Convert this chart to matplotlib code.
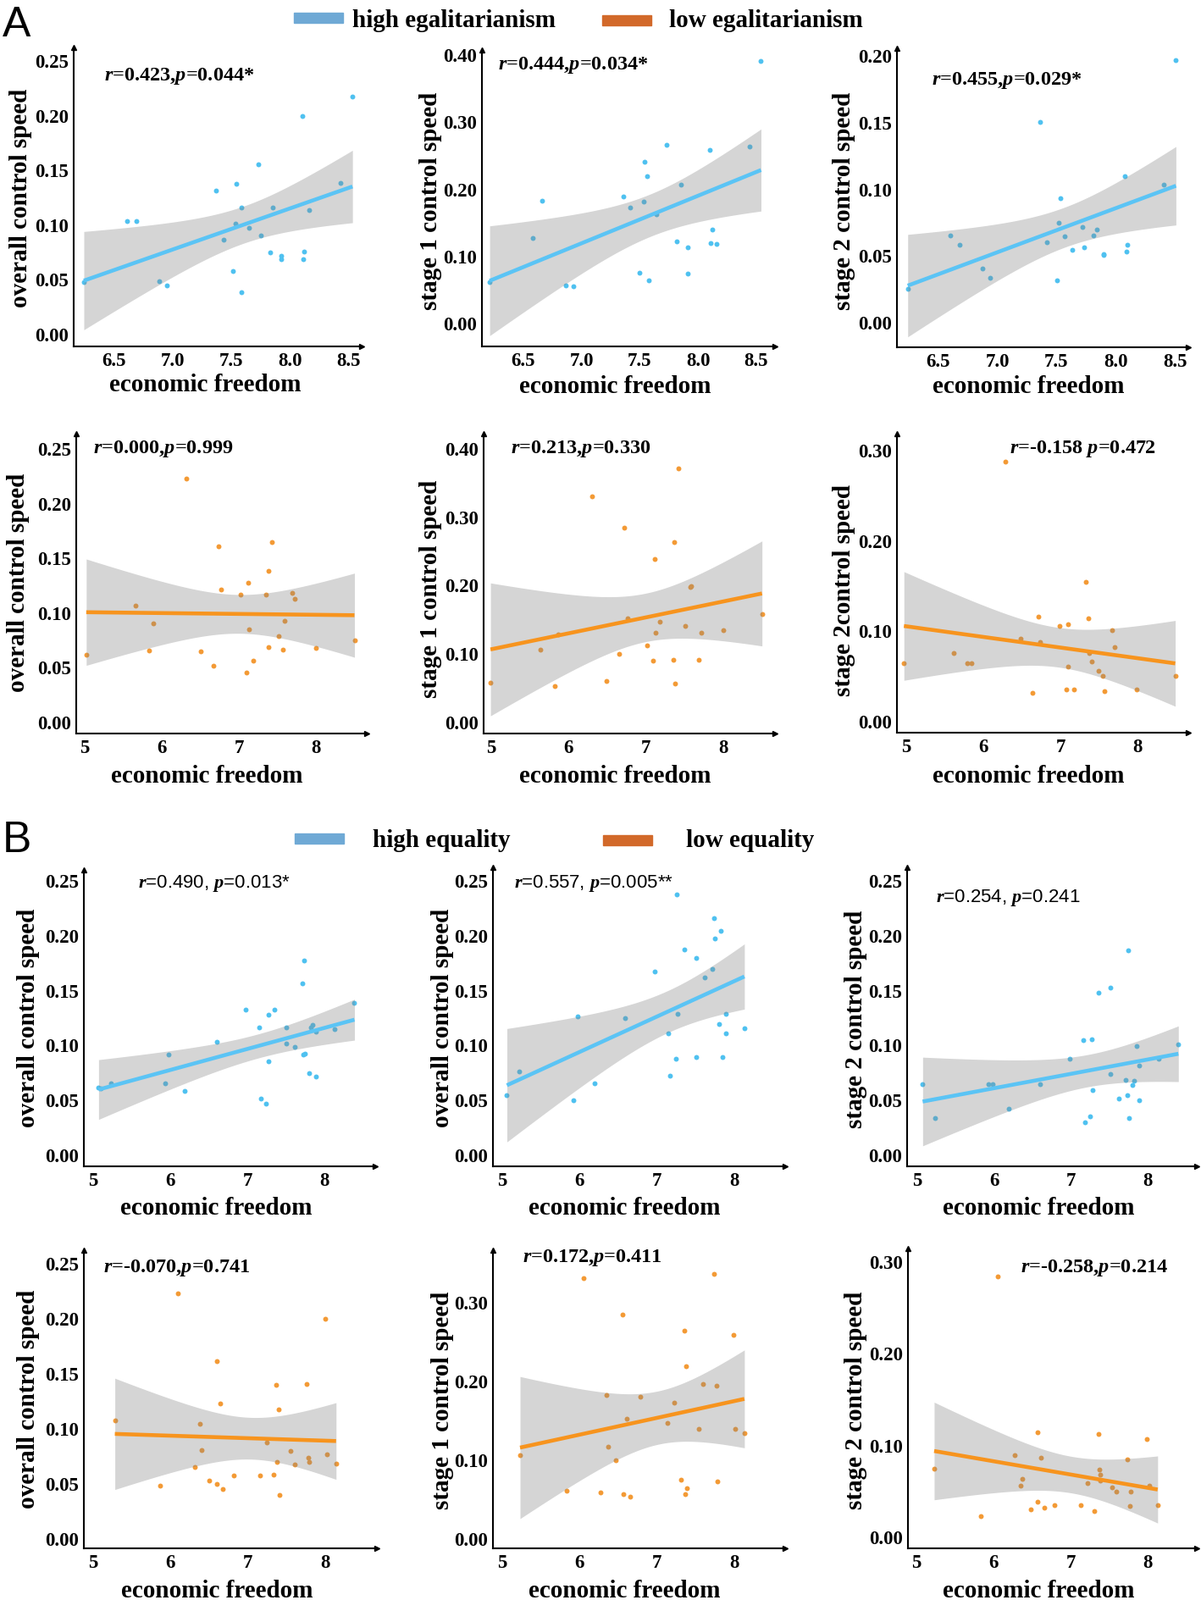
import numpy as np
import matplotlib
matplotlib.use("Agg")
import matplotlib.pyplot as plt
from matplotlib.patches import Rectangle

plt.rcParams["font.family"] = ["Liberation Serif", "DejaVu Serif"]
plt.rcParams["mathtext.fontset"] = "custom"
plt.rcParams["mathtext.it"] = "Liberation Serif:italic:bold"
plt.rcParams["mathtext.rm"] = "Liberation Serif:bold"

W, H = 1418, 1890

# ── data ────────────────────────────────────────────────────────────────────
# A: egalitarianism split, top row = high, bottom row = low
a1_x = [6.24, 6.61, 6.69, 6.88, 6.95, 7.37, 7.43, 7.51, 7.54, 7.53, 7.58, 7.58, 7.65,
        7.73, 7.75, 7.83, 7.85, 7.92, 7.92, 8.10, 8.11, 8.12, 8.16, 8.43, 8.53]
a1_y = [0.047, 0.103, 0.103, 0.048, 0.044, 0.131, 0.086, 0.057, 0.137, 0.101, 0.115, 0.038, 0.097,
        0.155, 0.090, 0.074, 0.115, 0.071, 0.068, 0.199, 0.068, 0.075, 0.113, 0.138, 0.217]

a2_x = [6.21, 6.58, 6.66, 6.86, 6.93, 7.36, 7.42, 7.50, 7.53, 7.54, 7.56, 7.58,
        7.64, 7.73, 7.82, 7.85, 7.91, 7.91, 8.10, 8.11, 8.12, 8.16, 8.44, 8.54]
a2_y = [0.060, 0.126, 0.182, 0.056, 0.054, 0.188, 0.172, 0.074, 0.180, 0.240, 0.218, 0.063,
        0.162, 0.265, 0.121, 0.206, 0.112, 0.073, 0.258, 0.119, 0.139, 0.117, 0.262, 0.390]

a3_x = [6.24, 6.60, 6.68, 6.87, 6.94, 7.36, 7.42, 7.50, 7.52, 7.53, 7.57, 7.63,
        7.72, 7.73, 7.81, 7.84, 7.90, 7.90, 8.08, 8.09, 8.10, 8.41, 8.51]
a3_y = [0.025, 0.065, 0.058, 0.040, 0.033, 0.150, 0.060, 0.031, 0.074, 0.093, 0.064, 0.054,
        0.071, 0.056, 0.065, 0.069, 0.051, 0.050, 0.109, 0.053, 0.058, 0.103, 0.196]

a4_x = [5.02, 5.66, 5.84, 5.89, 6.32, 6.50, 6.67, 6.74, 6.77, 7.02, 7.10, 7.12, 7.13,
        7.19, 7.35, 7.38, 7.39, 7.43, 7.52, 7.57, 7.59, 7.69, 7.72, 8.00, 8.50]
a4_y = [0.061, 0.106, 0.065, 0.090, 0.222, 0.064, 0.051, 0.160, 0.121, 0.116, 0.045, 0.127, 0.084,
        0.056, 0.116, 0.138, 0.068, 0.164, 0.078, 0.066, 0.092, 0.118, 0.112, 0.067, 0.074]

a5_x = [4.99, 5.64, 5.82, 5.87, 6.30, 6.49, 6.65, 6.72, 6.76, 7.01, 7.09, 7.11, 7.12,
        7.18, 7.35, 7.37, 7.38, 7.42, 7.51, 7.57, 7.58, 7.68, 7.71, 8.00, 8.50]
a5_y = [0.057, 0.105, 0.052, 0.128, 0.330, 0.059, 0.099, 0.284, 0.151, 0.112, 0.089, 0.238, 0.130,
        0.146, 0.091, 0.263, 0.056, 0.370, 0.140, 0.197, 0.198, 0.091, 0.130, 0.134, 0.157]

a6_x = [4.97, 5.62, 5.79, 5.85, 6.29, 6.48, 6.64, 6.71, 6.74, 6.99, 7.08, 7.10, 7.10,
        7.18, 7.33, 7.36, 7.37, 7.41, 7.50, 7.55, 7.57, 7.67, 7.70, 7.99, 8.49]
a6_y = [0.064, 0.075, 0.064, 0.064, 0.287, 0.091, 0.031, 0.115, 0.087, 0.105, 0.035, 0.107, 0.060,
        0.035, 0.154, 0.113, 0.075, 0.066, 0.055, 0.050, 0.033, 0.100, 0.082, 0.035, 0.050]

# B: equality split, top row = high, bottom row = low
b1_x = [5.07, 5.10, 5.23, 5.93, 5.98, 6.19, 6.60, 6.98, 7.15, 7.18, 7.24, 7.27, 7.28, 7.35,
        7.51, 7.51, 7.62, 7.71, 7.72, 7.75, 7.74, 7.80, 7.82, 7.85, 7.89, 7.89, 8.13, 8.39]
b1_y = [0.061, 0.060, 0.065, 0.065, 0.091, 0.058, 0.103, 0.132, 0.116, 0.051, 0.046, 0.127, 0.085, 0.132,
        0.116, 0.101, 0.098, 0.156, 0.091, 0.092, 0.177, 0.074, 0.116, 0.118, 0.112, 0.071, 0.114, 0.138]

b2_x = [5.06, 5.22, 5.92, 5.97, 6.19, 6.59, 6.97, 7.15, 7.17, 7.24, 7.26, 7.27, 7.35,
        7.51, 7.51, 7.62, 7.72, 7.74, 7.75, 7.80, 7.82, 7.85, 7.89, 7.89, 8.13]
b2_y = [0.054, 0.076, 0.049, 0.126, 0.065, 0.124, 0.167, 0.110, 0.072, 0.087, 0.237, 0.128, 0.187,
        0.089, 0.179, 0.161, 0.169, 0.215, 0.197, 0.119, 0.204, 0.089, 0.128, 0.110, 0.115]

b3_x = [5.07, 5.23, 5.93, 5.98, 6.19, 6.60, 6.98, 7.16, 7.18, 7.25, 7.27, 7.28, 7.36, 7.52,
        7.52, 7.63, 7.71, 7.73, 7.75, 7.76, 7.80, 7.82, 7.86, 7.89, 7.89, 8.14, 8.40]
b3_y = [0.064, 0.033, 0.064, 0.064, 0.042, 0.064, 0.087, 0.104, 0.029, 0.035, 0.105, 0.059, 0.147, 0.152,
        0.073, 0.051, 0.068, 0.054, 0.186, 0.033, 0.063, 0.067, 0.099, 0.081, 0.049, 0.087, 0.100]

b4_x = [5.28, 5.87, 6.09, 6.31, 6.38, 6.40, 6.50, 6.60, 6.60, 6.64, 6.68, 6.82, 7.16, 7.24,
        7.33, 7.37, 7.38, 7.40, 7.41, 7.55, 7.61, 7.76, 7.78, 7.79, 8.00, 8.02, 8.14]
b4_y = [0.107, 0.048, 0.222, 0.065, 0.104, 0.080, 0.052, 0.161, 0.049, 0.122, 0.045, 0.057, 0.057, 0.087,
        0.058, 0.139, 0.069, 0.117, 0.039, 0.079, 0.067, 0.140, 0.073, 0.069, 0.199, 0.076, 0.068]

b5_x = [5.23, 5.83, 6.05, 6.27, 6.35, 6.37, 6.47, 6.56, 6.57, 6.61, 6.65, 6.79, 7.13, 7.22,
        7.31, 7.35, 7.37, 7.38, 7.39, 7.54, 7.59, 7.74, 7.77, 7.78, 7.99, 8.01, 8.13]
b5_y = [0.105, 0.060, 0.330, 0.058, 0.182, 0.116, 0.099, 0.284, 0.056, 0.152, 0.053, 0.180, 0.146, 0.172,
        0.074, 0.263, 0.056, 0.218, 0.063, 0.139, 0.196, 0.335, 0.194, 0.072, 0.258, 0.139, 0.133]

b6_x = [5.23, 5.83, 6.06, 6.27, 6.35, 6.37, 6.48, 6.57, 6.57, 6.61, 6.66, 6.79, 7.13, 7.22,
        7.31, 7.36, 7.37, 7.38, 7.38, 7.54, 7.59, 7.74, 7.77, 7.78, 7.99, 8.02, 8.13]
b6_y = [0.074, 0.022, 0.283, 0.089, 0.055, 0.063, 0.030, 0.114, 0.038, 0.086, 0.031, 0.034, 0.034, 0.058,
        0.028, 0.112, 0.073, 0.067, 0.061, 0.054, 0.049, 0.084, 0.033, 0.049, 0.106, 0.055, 0.034]

stats_text = [
    "$r$=0.423,$p$=0.044*", "$r$=0.444,$p$=0.034*", "$r$=0.455,$p$=0.029*",
    "$r$=0.000,$p$=0.999", "$r$=0.213,$p$=0.330", "$r$=-0.158 $p$=0.472",
    "$r$=0.490, $p$=0.013*", "$r$=0.557, $p$=0.005**", "$r$=0.254, $p$=0.241",
    "$r$=-0.070,$p$=0.741", "$r$=0.172,$p$=0.411", "$r$=-0.258,$p$=0.214",
]
y_labels = [
    "overall control speed", "stage 1 control speed", "stage 2 control speed",
    "overall control speed", "stage 1 control speed", "stage 2control speed",
    "overall control speed", "overall control speed", "stage 2 control speed",
    "overall control speed", "stage 1 control speed", "stage 2 control speed",
]
x_label = "economic freedom"
legend_a = ["high egalitarianism", "low egalitarianism"]
legend_b = ["high equality", "low equality"]

BLUE_PT, BLUE_LN = "#4FC1F0", "#5BC4F5"
ORANGE_PT, ORANGE_LN = "#F39A35", "#F7941E"
LEG_BLUE, LEG_ORANGE = "#6FA9D5", "#D2692A"

# ── layout, in reference pixels ─────────────────────────────────────────────
# box = (left, top, right, bottom); xcal / ycal = (value, px, value, px)
layout = [
    dict(box=(87, 57, 427, 410), xcal=(6.5, 135, 8.5, 412), ycal=(0, 395, 0.25, 72),
         xt=np.arange(6.5, 8.51, 0.5), yt=np.arange(0, 0.251, 0.05), fx="%.1f",
         ylab=(25, 234), xlab=(242, 455), ann=(123, 90)),
    dict(box=(569, 60, 915, 410), xcal=(6.5, 618, 8.5, 893), ycal=(0, 382, 0.4, 65),
         xt=np.arange(6.5, 8.51, 0.5), yt=np.arange(0, 0.401, 0.1), fx="%.1f",
         ylab=(508, 237), xlab=(726, 457), ann=(588, 77)),
    dict(box=(1059, 58, 1403, 411), xcal=(6.5, 1108, 8.5, 1387), ycal=(0, 381, 0.2, 66),
         xt=np.arange(6.5, 8.51, 0.5), yt=np.arange(0, 0.201, 0.05), fx="%.1f",
         ylab=(997, 237), xlab=(1214, 457), ann=(1100, 95)),
    dict(box=(90, 513, 433, 867), xcal=(5, 100, 8, 373), ycal=(0, 853, 0.25, 530),
         xt=[5, 6, 7, 8], yt=np.arange(0, 0.251, 0.05), fx="%d",
         ylab=(22, 688), xlab=(244, 917), ann=(110, 530)),
    dict(box=(571, 513, 915, 867), xcal=(5, 580, 8, 854), ycal=(0, 853, 0.4, 530),
         xt=[5, 6, 7, 8], yt=np.arange(0, 0.401, 0.1), fx="%d",
         ylab=(508, 695), xlab=(726, 917), ann=(603, 530)),
    dict(box=(1059, 513, 1403, 866), xcal=(5, 1070, 8, 1343), ycal=(0, 852, 0.3, 532),
         xt=[5, 6, 7, 8], yt=np.arange(0, 0.301, 0.1), fx="%d",
         ylab=(997, 697), xlab=(1214, 917), ann=(1192, 530)),
    dict(box=(99, 1028, 443, 1378), xcal=(5, 110, 8, 383), ycal=(0, 1364, 0.25, 1040),
         xt=[5, 6, 7, 8], yt=np.arange(0, 0.251, 0.05), fx="%d",
         ylab=(34, 1202), xlab=(255, 1427), ann=(163, 1043)),
    dict(box=(582, 1025, 927, 1378), xcal=(5, 593, 8, 867), ycal=(0, 1364, 0.25, 1040),
         xt=[5, 6, 7, 8], yt=np.arange(0, 0.251, 0.05), fx="%d",
         ylab=(523, 1202), xlab=(737, 1427), ann=(607, 1043)),
    dict(box=(1071, 1025, 1413, 1378), xcal=(5, 1083, 8, 1355), ycal=(0, 1364, 0.25, 1040),
         xt=[5, 6, 7, 8], yt=np.arange(0, 0.251, 0.05), fx="%d",
         ylab=(1011, 1203), xlab=(1226, 1427), ann=(1105, 1060)),
    dict(box=(99, 1477, 445, 1829), xcal=(5, 110, 8, 384), ycal=(0, 1817, 0.25, 1492),
         xt=[5, 6, 7, 8], yt=np.arange(0, 0.251, 0.05), fx="%d",
         ylab=(34, 1652), xlab=(256, 1879), ann=(122, 1497)),
    dict(box=(582, 1477, 927, 1829), xcal=(5, 593, 8, 867), ycal=(0, 1817, 0.3, 1538),
         xt=[5, 6, 7, 8], yt=np.arange(0, 0.301, 0.1), fx="%d",
         ylab=(523, 1653), xlab=(737, 1879), ann=(617, 1485)),
    dict(box=(1072, 1475, 1413, 1829), xcal=(5, 1082, 8, 1355), ycal=(0, 1815, 0.3, 1490),
         xt=[5, 6, 7, 8], yt=np.arange(0, 0.301, 0.1), fx="%d",
         ylab=(1011, 1653), xlab=(1226, 1879), ann=(1205, 1497)),
]

series = [(a1_x, a1_y), (a2_x, a2_y), (a3_x, a3_y), (a4_x, a4_y), (a5_x, a5_y), (a6_x, a6_y),
          (b1_x, b1_y), (b2_x, b2_y), (b3_x, b3_y), (b4_x, b4_y), (b5_x, b5_y), (b6_x, b6_y)]
high_group = [True, True, True, False, False, False, True, True, True, False, False, False]


def fx(px):
    return px / W


def fy(py):
    return 1 - py / H


def fit_with_band(x, y):
    x = np.asarray(x, float)
    y = np.asarray(y, float)
    n = len(x)
    slope, icpt = np.polyfit(x, y, 1)
    grid = np.linspace(x.min(), x.max(), 100)
    resid = y - (icpt + slope * x)
    s = np.sqrt(np.sum(resid ** 2) / (n - 2))
    sxx = np.sum((x - x.mean()) ** 2)
    t = 1.96 + 2.4 / (n - 2)
    se = s * np.sqrt(1 / n + (grid - x.mean()) ** 2 / sxx)
    yhat = icpt + slope * grid
    return grid, yhat, yhat - t * se, yhat + t * se


fig = plt.figure(figsize=(W / 100, H / 100), dpi=100)

for i, (spec, (xs, ys)) in enumerate(zip(layout, series)):
    x0, y0, x1, y1 = spec["box"]
    ax = fig.add_axes([fx(x0), fy(y1), (x1 - x0) / W, (y1 - y0) / H])

    v1, p1, v2, p2 = spec["xcal"]
    sc = (v2 - v1) / (p2 - p1)
    ax.set_xlim(v1 + (x0 - p1) * sc, v1 + (x1 - p1) * sc)
    v1, p1, v2, p2 = spec["ycal"]
    sc = (v2 - v1) / (p2 - p1)
    ax.set_ylim(v1 + (y1 - p1) * sc, v1 + (y0 - p1) * sc)

    pt_col, ln_col = (BLUE_PT, BLUE_LN) if high_group[i] else (ORANGE_PT, ORANGE_LN)
    ax.scatter(xs, ys, s=18, color=pt_col, linewidths=0, zorder=1)
    gx, gy, lo, hi = fit_with_band(xs, ys)
    ax.fill_between(gx, lo, hi, color="#808080", alpha=0.33, linewidth=0, zorder=2)
    ax.plot(gx, gy, color=ln_col, lw=3.3, solid_capstyle="butt", zorder=3)

    ax.set_xticks(spec["xt"])
    ax.set_yticks(spec["yt"])
    ax.set_xticklabels([spec["fx"] % v for v in spec["xt"]])
    ax.set_yticklabels(["%.2f" % v for v in spec["yt"]])
    ax.tick_params(length=0, pad=4.5, labelsize=16.5)
    for lab in ax.get_xticklabels() + ax.get_yticklabels():
        lab.set_fontweight("bold")

    for side in ("top", "right"):
        ax.spines[side].set_visible(False)
    for side in ("left", "bottom"):
        ax.spines[side].set_linewidth(1.5)
    ax.plot([1], [0], marker=">", ms=5, color="k", transform=ax.transAxes, clip_on=False)
    ax.plot([0], [1], marker="^", ms=5, color="k", transform=ax.transAxes, clip_on=False)
    ax.set_facecolor("none")

    lx, ly = spec["ylab"]
    fig.text(fx(lx), fy(ly), y_labels[i], rotation=90, ha="center", va="center",
             fontsize=21, fontweight="bold")
    lx, ly = spec["xlab"]
    fig.text(fx(lx), fy(ly), x_label, ha="center", va="center",
             fontsize=21, fontweight="bold")

    tx, ty = spec["ann"]
    if 6 <= i <= 8:
        fig.text(fx(tx), fy(ty), stats_text[i], ha="left", va="center", fontsize=16,
                 family=["Liberation Sans", "DejaVu Sans"])
    else:
        fig.text(fx(tx), fy(ty), stats_text[i], ha="left", va="center", fontsize=17.5,
                 fontweight="bold")

# ── panel letters and legends ───────────────────────────────────────────────
fig.text(fx(3), fy(43), "A", fontsize=36, family=["Liberation Sans", "DejaVu Sans"],
         ha="left", va="baseline")
fig.text(fx(3), fy(1006), "B", fontsize=37, family=["Liberation Sans", "DejaVu Sans"],
         ha="left", va="baseline")

legend_rows = [
    (legend_a, [(347, 16, LEG_BLUE), (711, 19, LEG_ORANGE)], [416, 790], 32),
    (legend_b, [(348, 985, LEG_BLUE), (712, 987, LEG_ORANGE)], [440, 810], 1000),
]
for names, rects, text_x, base in legend_rows:
    for (rx, ry, col), name, tx in zip(rects, names, text_x):
        fig.patches.append(Rectangle((fx(rx), fy(ry + 12)), 58 / W, 12 / H,
                                     transform=fig.transFigure, color=col))
        fig.text(fx(tx), fy(base), name, fontsize=21, fontweight="bold",
                 ha="left", va="baseline")

fig.savefig("out.png", dpi=100)
